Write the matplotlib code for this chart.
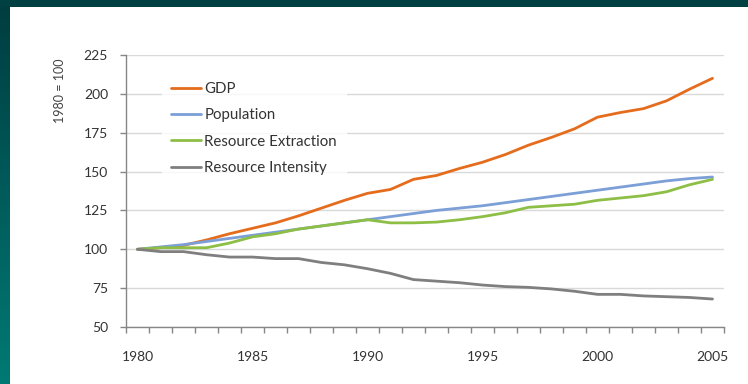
import numpy as np
import matplotlib
matplotlib.use("Agg")
import matplotlib.pyplot as plt
from matplotlib.patches import Rectangle
from matplotlib.colors import LinearSegmentedColormap

plt.rcParams['font.family'] = ['Lato', 'DejaVu Sans']

years = list(range(1980, 2006))
gdp = [100, 101, 102.5, 106, 110, 113.5, 117, 121.5, 126.5, 131.5, 136, 138.5, 145,
       147.5, 152, 156, 161, 167, 172, 177.5, 185, 188, 190.5, 195.5, 203, 210]
population = [100, 101.5, 103, 105, 107, 109, 111, 113, 115, 117, 119, 121, 123,
              125, 126.5, 128, 130, 132, 134, 136, 138, 140, 142, 144, 145.5, 146.5]
extraction = [100, 101, 101, 101, 104, 108, 110, 113, 115, 117, 119, 117, 117,
              117.5, 119, 121, 123.5, 127, 128, 129, 131.5, 133, 134.5, 137, 141.5, 145]
intensity = [100, 98.5, 98.5, 96.5, 95, 95, 94, 94, 91.5, 90, 87.5, 84.5, 80.5,
             79.5, 78.5, 77, 76, 75.5, 74.5, 73, 71, 71, 70, 69.5, 69, 68]

series = [
    ("GDP", gdp, "#E46C1C"),
    ("Population", population, "#7B9FD6"),
    ("Resource Extraction", extraction, "#8DBE45"),
    ("Resource Intensity", intensity, "#7F7F7F"),
]

W, H = 748, 384
fig = plt.figure(figsize=(W / 100, H / 100), dpi=100)
fig.patch.set_facecolor("white")

# dark teal frame: gradient strip on the left, dark band on top
bg = fig.add_axes([0, 0, 1, 1], zorder=-10)
bg.set_xlim(0, W)
bg.set_ylim(H, 0)
bg.axis("off")
cmap = LinearSegmentedColormap.from_list("teal", ["#003C40", "#007A74"])
grad = np.linspace(0, 1, 256).reshape(-1, 1)
bg.imshow(grad, cmap=cmap, extent=[0, 10, H, 0], aspect="auto")
bg.add_patch(Rectangle((0, 0), W, 7, color="#003F42", lw=0))

x = np.arange(len(years))
ax = fig.add_axes([126 / W, 57 / H, 598 / W, 272 / H])
ax.set_facecolor("none")

for name, vals, col in series:
    ax.plot(x, vals, color=col, lw=2.0, label=name, solid_capstyle="round", zorder=3)

ax.set_xlim(-0.5, len(years) - 0.5)
ax.set_ylim(50, 225)
ax.set_yticks(np.arange(50, 226, 25))
ax.yaxis.grid(True, color="#D9D9D9", lw=1.0)
ax.set_axisbelow(True)

ax.set_xticks(np.arange(-0.5, len(years), 1.0))
ax.set_xticklabels([])
ax.set_xticks(x[::5], minor=True)
ax.set_xticklabels([str(years[i]) for i in x[::5]], minor=True)
ax.tick_params(axis="x", which="major", length=4, color="#868686", width=1)
ax.tick_params(axis="x", which="minor", length=0, pad=17, labelsize=10, labelcolor="#333333")
ax.tick_params(axis="y", length=4, color="#868686", width=1, labelsize=10,
               labelcolor="#333333", pad=9)

for side in ("top", "right"):
    ax.spines[side].set_visible(False)
for side in ("left", "bottom"):
    ax.spines[side].set_color("#868686")
    ax.spines[side].set_linewidth(1.0)

ax.set_ylabel("1980 = 100", fontsize=9, color="#444444")
ax.yaxis.set_label_coords(-0.10, 0.87)

leg = ax.legend(loc="upper left", bbox_to_anchor=(0.048, 0.962), frameon=True,
                fontsize=10.8, handlelength=2.0, handletextpad=0.2, labelspacing=0.83,
                borderpad=0.6, fancybox=False)
leg.get_frame().set_facecolor("white")
leg.get_frame().set_edgecolor("white")
for t in leg.get_texts():
    t.set_color("#333333")

fig.savefig("out.png", dpi=100)
